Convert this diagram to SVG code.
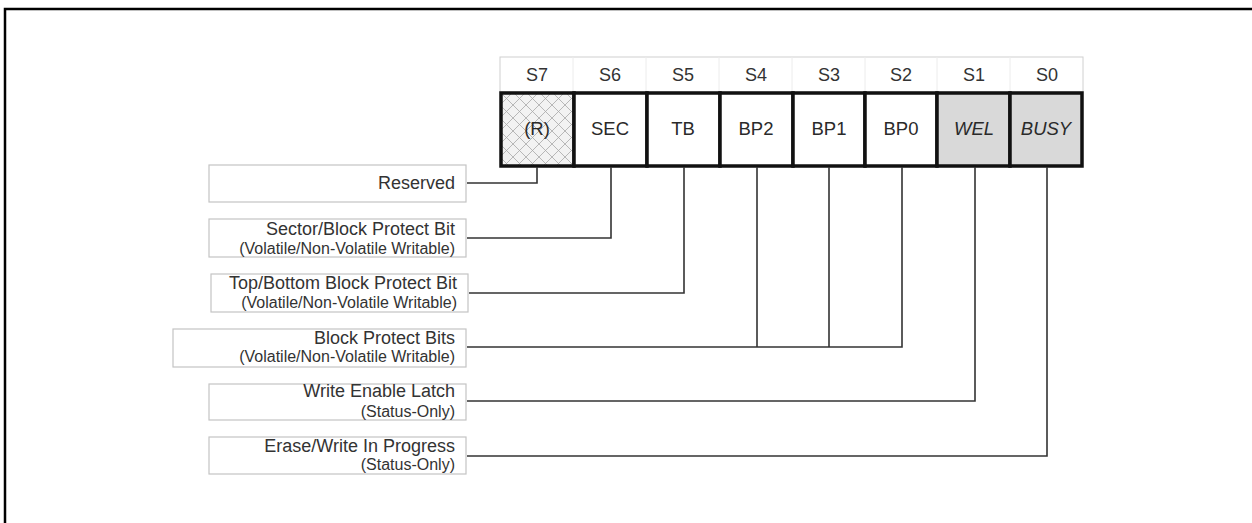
<svg xmlns="http://www.w3.org/2000/svg" width="1252" height="523" viewBox="0 0 1252 523">
  <defs>
    <pattern id="hatch" width="13" height="13" patternUnits="userSpaceOnUse" x="500" y="92">
      <rect width="13" height="13" fill="#f2f2f2"/>
      <path d="M0,0 L13,13 M13,0 L0,13" stroke="#a8a8a8" stroke-width="0.8" fill="none"/>
    </pattern>
    <style>
      .frame{fill:none;stroke:#000;stroke-width:2.5}
      .hdr{fill:#fff;stroke:#d0d0d0;stroke-width:1}
      .hdiv{stroke:#ececec;stroke-width:1}
      .htxt{font-family:"Liberation Sans",Arial,sans-serif;font-size:18px;fill:#333;text-anchor:middle}
      .cell{stroke:#111;stroke-width:3.5}
      .ctxt{font-family:"Liberation Sans",Arial,sans-serif;font-size:18.5px;fill:#2a2a2a;text-anchor:middle}
      .it{font-style:italic}
      .lbl{fill:#fff;stroke:#c4c4c4;stroke-width:1.2}
      .l1{font-family:"Liberation Sans",Arial,sans-serif;font-size:18px;fill:#333;text-anchor:end}
      .l2{font-family:"Liberation Sans",Arial,sans-serif;font-size:16px;fill:#333;text-anchor:end}
      .conn{fill:none;stroke:#333;stroke-width:1.6}
    </style>
  </defs>
  <rect x="0" y="0" width="1252" height="523" fill="#fff"/>
  <rect class="frame" x="5" y="9" width="1270" height="540"/>

  <g id="header">
    <rect class="hdr" x="500" y="57" width="583" height="35"/>
    <path class="hdiv" d="M573,57V92M646,57V92M719,57V92M792,57V92M865,57V92M937,57V92M1010,57V92"/>
    <text class="htxt" x="537" y="81">S7</text>
    <text class="htxt" x="610" y="81">S6</text>
    <text class="htxt" x="683" y="81">S5</text>
    <text class="htxt" x="756" y="81">S4</text>
    <text class="htxt" x="829" y="81">S3</text>
    <text class="htxt" x="901" y="81">S2</text>
    <text class="htxt" x="974" y="81">S1</text>
    <text class="htxt" x="1047" y="81">S0</text>
  </g>

  <g id="bit-S7"><rect class="cell" x="501" y="93" width="73" height="73" fill="url(#hatch)"/><text class="ctxt" x="537" y="135">(R)</text></g>
  <g id="bit-S6"><rect class="cell" x="574" y="93" width="73" height="73" fill="#fff"/><text class="ctxt" x="610" y="135">SEC</text></g>
  <g id="bit-S5"><rect class="cell" x="647" y="93" width="73" height="73" fill="#fff"/><text class="ctxt" x="683" y="135">TB</text></g>
  <g id="bit-S4"><rect class="cell" x="720" y="93" width="73" height="73" fill="#fff"/><text class="ctxt" x="756" y="135">BP2</text></g>
  <g id="bit-S3"><rect class="cell" x="793" y="93" width="72" height="73" fill="#fff"/><text class="ctxt" x="829" y="135">BP1</text></g>
  <g id="bit-S2"><rect class="cell" x="865" y="93" width="72" height="73" fill="#fff"/><text class="ctxt" x="901" y="135">BP0</text></g>
  <g id="bit-S1"><rect class="cell" x="937" y="93" width="73" height="73" fill="#d9d9d9"/><text class="ctxt it" x="974" y="135">WEL</text></g>
  <g id="bit-S0"><rect class="cell" x="1010" y="93" width="72" height="73" fill="#d9d9d9"/><text class="ctxt it" x="1046" y="135">BUSY</text></g>

  <g id="connectors">
    <path class="conn" d="M537,167V183H467"/>
    <path class="conn" d="M611,167V238H467"/>
    <path class="conn" d="M684,167V293H469"/>
    <path class="conn" d="M902,167V347H467M757,167V347M829,167V347"/>
    <path class="conn" d="M975,167V401H467"/>
    <path class="conn" d="M1047,167V456H467"/>
  </g>

  <g id="label-reserved">
    <rect class="lbl" x="209" y="165" width="257" height="37"/>
    <text class="l1" x="455" y="189">Reserved</text>
  </g>
  <g id="label-sec">
    <rect class="lbl" x="209" y="219" width="257" height="38"/>
    <text class="l1" x="455" y="235">Sector/Block Protect Bit</text>
    <text class="l2" x="455" y="254">(Volatile/Non-Volatile Writable)</text>
  </g>
  <g id="label-tb">
    <rect class="lbl" x="211" y="274" width="257" height="38"/>
    <text class="l1" x="457" y="289">Top/Bottom Block Protect Bit</text>
    <text class="l2" x="457" y="308">(Volatile/Non-Volatile Writable)</text>
  </g>
  <g id="label-bp">
    <rect class="lbl" x="173" y="329" width="293" height="38"/>
    <text class="l1" x="455" y="344">Block Protect Bits</text>
    <text class="l2" x="455" y="362">(Volatile/Non-Volatile Writable)</text>
  </g>
  <g id="label-wel">
    <rect class="lbl" x="209" y="384" width="257" height="36"/>
    <text class="l1" x="455" y="397">Write Enable Latch</text>
    <text class="l2" x="455" y="417">(Status-Only)</text>
  </g>
  <g id="label-busy">
    <rect class="lbl" x="209" y="437" width="257" height="37"/>
    <text class="l1" x="455" y="452">Erase/Write In Progress</text>
    <text class="l2" x="455" y="470">(Status-Only)</text>
  </g>
</svg>
